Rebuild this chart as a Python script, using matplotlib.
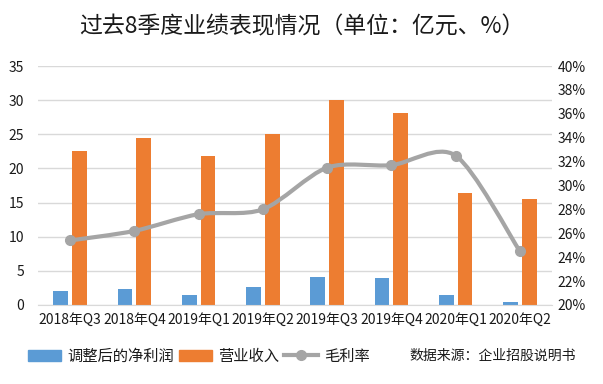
import matplotlib.pyplot as plt
import numpy as np
from matplotlib.path import Path
from matplotlib.patches import PathPatch, Patch
from matplotlib.lines import Line2D

plt.rcParams['font.family'] = ['Noto Sans CJK SC', 'DejaVu Sans']

quarters = ['2018年Q3', '2018年Q4', '2019年Q1', '2019年Q2',
            '2019年Q3', '2019年Q4', '2020年Q1', '2020年Q2']
net_profit = [2.1, 2.3, 1.4, 2.7, 4.1, 3.9, 1.4, 0.4]
revenue = [22.5, 24.4, 21.8, 25.1, 30.0, 28.1, 16.4, 15.5]
gross_margin = [25.4, 26.2, 27.6, 28.0, 31.5, 31.7, 32.5, 24.5]

blue = '#5B9BD5'
orange = '#ED7D31'
gray = '#A5A5A5'
txt = '#1a1a1a'


def smooth_path(xs, ys, k=7.0):
    """Excel-like smooth line: Catmull-Rom segments as cubic beziers"""
    pts = np.column_stack([xs, ys]).astype(float)
    verts = [pts[0]]
    codes = [Path.MOVETO]
    n = len(pts)
    for i in range(n - 1):
        p0 = pts[i - 1] if i > 0 else pts[i]
        p1 = pts[i]
        p2 = pts[i + 1]
        p3 = pts[i + 2] if i + 2 < n else pts[i + 1]
        c1 = p1 + (p2 - p0) / k
        c2 = p2 - (p3 - p1) / k
        verts += [c1, c2, p2]
        codes += [Path.CURVE4] * 3
    return Path(verts, codes)


fig = plt.figure(figsize=(6.03, 3.84), dpi=100)
ax = fig.add_axes([38 / 603, 1 - 305 / 384, (552 - 38) / 603, (305 - 66) / 384])

x = np.arange(len(quarters))
w = 0.23
ax.bar(x - 0.145, net_profit, width=w, color=blue, zorder=2)
ax.bar(x + 0.145, revenue, width=w, color=orange, zorder=2)

ax.set_xlim(-0.5, len(quarters) - 0.5)
ax.set_ylim(0, 35)
ax.set_yticks(range(0, 36, 5))
ax.grid(axis='y', color='#D9D9D9', linewidth=1, zorder=0)
ax.set_axisbelow(True)
for s in ['top', 'right', 'left']:
    ax.spines[s].set_visible(False)
ax.spines['bottom'].set_color('#D9D9D9')
ax.tick_params(axis='both', length=0, labelsize=10, colors=txt)
ax.tick_params(axis='y', pad=10)
ax.set_xticks(x)
ax.set_xticklabels(quarters, fontsize=10)
ax.tick_params(axis='x', pad=6)

ax2 = ax.twinx()
ax2.set_ylim(20, 40)
ax2.set_yticks(range(20, 41, 2))
ax2.set_yticklabels([f'{v}%' for v in range(20, 41, 2)])
for s in ax2.spines.values():
    s.set_visible(False)
ax2.tick_params(axis='y', length=0, labelsize=10, colors=txt, pad=4)

ax2.add_patch(PathPatch(smooth_path(x, gross_margin), fill=False,
                        edgecolor=gray, linewidth=3, capstyle='round', zorder=3))
ax2.plot(x, gross_margin, 'o', color=gray, markersize=7, zorder=4)

fig.text(0.5, 1 - 27 / 384, '过去8季度业绩表现情况（单位：亿元、%）',
         ha='center', va='center', fontsize=16.5, color=txt)

handles = [Patch(color=blue, label='调整后的净利润'),
           Patch(color=orange, label='营业收入'),
           Line2D([], [], color=gray, linewidth=3, marker='o', markersize=7,
                  label='毛利率')]
fig.legend(handles=handles, loc='center left',
           bbox_to_anchor=(14 / 603, 1 - 356 / 384), ncol=3, frameon=False,
           fontsize=11, handlelength=2.2, handleheight=0.7,
           columnspacing=0.3, handletextpad=0.4, labelcolor=txt)

fig.text(576 / 603, 1 - 356 / 384, '数据来源：企业招股说明书',
         ha='right', va='center', fontsize=10, color=txt)

fig.savefig('out.png', dpi=100)
